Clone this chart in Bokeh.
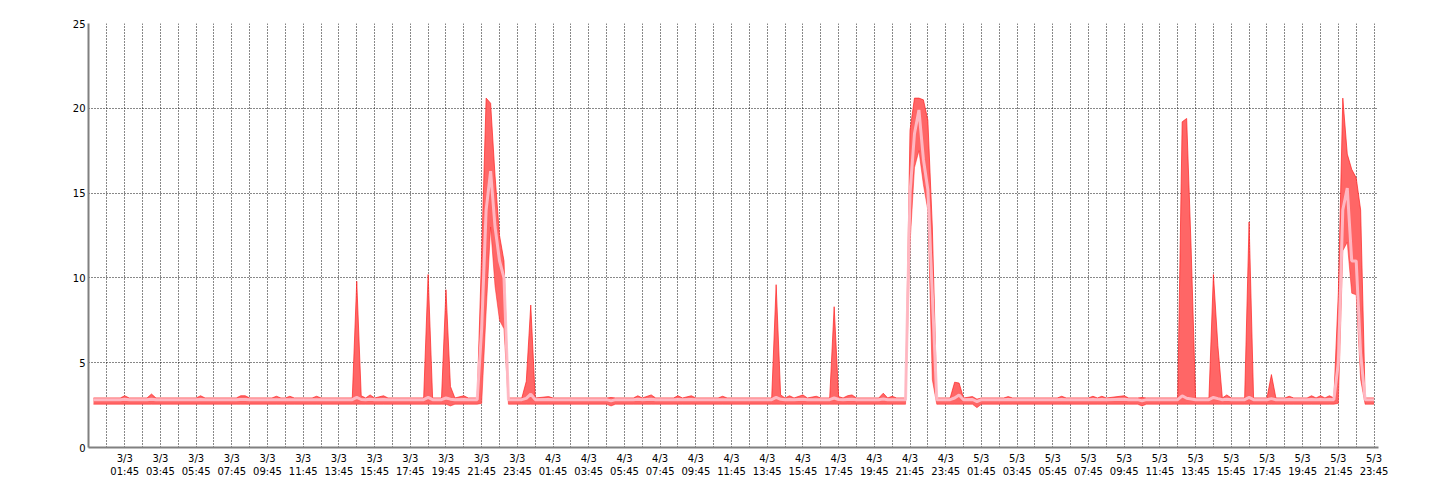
from bokeh.plotting import figure
from bokeh.models import Range1d, FixedTicker, Grid, ColumnDataSource
from bokeh.embed import file_html
from bokeh.resources import INLINE

# hours since 3/3 00:00
t_hours = [
    0.0, 1.5, 1.75, 2.0, 3.0, 3.25, 3.5, 5.75, 6.0, 6.25, 8.0, 8.25, 8.5, 8.75,
    10.0, 10.25, 10.5, 10.75, 11.0, 11.25, 12.25, 12.5, 12.75, 14.5, 14.75, 15.0,
    15.25, 15.5, 15.75, 16.25, 16.5, 18.5, 18.75, 19.0, 19.5, 19.75, 20.0, 20.25,
    20.75, 21.0, 21.5, 21.75, 22.0, 22.25, 22.5, 22.75, 23.0, 23.25,
    24.0, 24.25, 24.5, 24.75, 25.5, 25.75, 28.75, 29.0, 29.25, 30.25, 30.5, 30.75,
    31.25, 31.5, 32.5, 32.75, 33.0, 33.5, 33.75, 35.0, 35.25, 35.5, 38.0, 38.25,
    38.5, 38.75, 39.0, 39.25, 39.75, 40.0, 40.5, 40.75, 41.25, 41.5, 41.75, 42.0,
    42.25, 42.5, 42.75, 44.0, 44.25, 44.5, 44.75, 45.0, 45.5, 45.75, 46.0, 46.25,
    46.5, 46.75, 47.0, 47.25,
    48.0, 48.25, 48.5, 48.75, 49.25, 49.5, 49.75, 51.0, 51.25, 51.5, 54.0, 54.25,
    54.5, 55.75, 56.0, 56.25, 56.5, 56.75, 57.75, 58.0, 58.5, 58.75, 59.0, 60.75,
    61.0, 61.25, 61.5, 61.75, 62.5, 62.75, 63.0, 63.25, 63.5, 63.75, 64.5, 64.75,
    65.0, 65.75, 66.0, 66.25, 66.75, 67.0, 67.25, 68.0, 68.25, 68.5, 68.75, 69.0,
    69.25, 69.5, 69.75, 70.0, 70.25, 70.5, 70.75, 71.0, 71.25, 71.75,
]

max_vals = [
    2.92, 2.92, 3.05, 2.92, 2.92, 3.15, 2.92, 2.92, 3.05, 2.92, 2.92, 3.05, 3.05, 2.92,
    2.92, 3.02, 2.92, 2.92, 3.02, 2.92, 2.92, 3.02, 2.92, 2.92, 9.8, 3.05,
    2.92, 3.1, 2.92, 3.05, 2.92, 2.92, 10.2, 2.92, 2.92, 9.3, 3.6, 2.92,
    3.05, 2.92, 2.92, 11.5, 20.6, 20.3, 16.0, 12.5, 11.0, 2.92,
    2.92, 3.9, 8.4, 2.92, 3.0, 2.92, 2.92, 2.95, 2.92, 2.92, 3.05, 2.92,
    3.1, 2.92, 2.92, 3.05, 2.92, 3.05, 2.92, 2.92, 3.02, 2.92, 2.92, 9.6,
    3.1, 2.92, 3.05, 2.92, 3.1, 2.92, 3.02, 2.92, 2.92, 8.3, 3.0, 2.92,
    3.05, 3.1, 2.92, 2.92, 3.2, 2.92, 3.02, 2.92, 2.92, 18.7, 20.6, 20.6,
    20.5, 19.3, 13.0, 2.92,
    2.92, 3.85, 3.8, 2.92, 3.0, 2.85, 2.92, 2.92, 3.0, 2.92, 2.92, 3.02,
    2.92, 2.92, 3.02, 2.92, 3.02, 2.92, 3.05, 2.92, 2.92, 2.95, 2.92, 2.92,
    19.2, 19.4, 11.8, 2.92, 2.92, 10.2, 6.0, 2.92, 3.1, 2.92, 2.92, 13.3,
    2.92, 2.92, 4.3, 2.92, 2.92, 3.02, 2.92, 2.92, 3.05, 2.92, 3.05, 2.92,
    3.05, 2.92, 9.1, 20.6, 17.3, 16.4, 15.9, 14.0, 2.92, 2.92,
]

avg_vals = [
    2.82, 2.82, 2.84, 2.82, 2.82, 2.85, 2.82, 2.82, 2.83, 2.82, 2.82, 2.83, 2.83, 2.82,
    2.82, 2.82, 2.82, 2.82, 2.82, 2.82, 2.82, 2.82, 2.82, 2.82, 2.95, 2.83,
    2.82, 2.84, 2.82, 2.83, 2.82, 2.82, 2.95, 2.82, 2.82, 2.92, 2.85, 2.82,
    2.83, 2.82, 2.82, 7.0, 14.0, 16.3, 13.0, 11.0, 10.0, 2.82,
    2.82, 2.9, 3.15, 2.82, 2.83, 2.82, 2.82, 2.75, 2.82, 2.82, 2.84, 2.82,
    2.84, 2.82, 2.82, 2.83, 2.82, 2.83, 2.82, 2.82, 2.82, 2.82, 2.82, 2.95,
    2.84, 2.82, 2.83, 2.82, 2.84, 2.82, 2.82, 2.82, 2.82, 2.92, 2.83, 2.82,
    2.83, 2.84, 2.82, 2.82, 2.86, 2.82, 2.82, 2.82, 2.82, 15.0, 18.5, 19.9,
    17.0, 15.2, 9.0, 2.82,
    2.82, 2.92, 3.1, 2.82, 2.83, 2.7, 2.82, 2.82, 2.83, 2.82, 2.82, 2.83,
    2.82, 2.82, 2.83, 2.82, 2.83, 2.82, 2.84, 2.82, 2.82, 2.75, 2.82, 2.82,
    3.05, 2.9, 2.86, 2.82, 2.82, 2.95, 2.88, 2.82, 2.84, 2.82, 2.82, 2.95,
    2.82, 2.82, 2.88, 2.82, 2.82, 2.83, 2.82, 2.82, 2.83, 2.82, 2.83, 2.82,
    2.83, 2.82, 5.0, 14.0, 15.3, 11.0, 11.0, 5.5, 2.82, 2.82,
]

min_vals = [
    2.55, 2.55, 2.55, 2.55, 2.55, 2.55, 2.55, 2.55, 2.55, 2.55, 2.55, 2.55, 2.55, 2.55,
    2.55, 2.55, 2.55, 2.55, 2.55, 2.55, 2.55, 2.55, 2.55, 2.55, 2.55, 2.55,
    2.55, 2.55, 2.55, 2.55, 2.55, 2.55, 2.55, 2.55, 2.55, 2.55, 2.45, 2.55,
    2.55, 2.55, 2.55, 2.6, 8.0, 13.0, 9.5, 7.5, 7.0, 2.55,
    2.55, 2.55, 2.55, 2.55, 2.55, 2.55, 2.55, 2.45, 2.55, 2.55, 2.55, 2.55,
    2.55, 2.55, 2.55, 2.55, 2.55, 2.55, 2.55, 2.55, 2.55, 2.55, 2.55, 2.55,
    2.55, 2.55, 2.55, 2.55, 2.55, 2.55, 2.55, 2.55, 2.55, 2.55, 2.55, 2.55,
    2.55, 2.55, 2.55, 2.55, 2.55, 2.55, 2.55, 2.55, 2.55, 12.0, 16.5, 17.5,
    15.5, 14.0, 4.0, 2.55,
    2.55, 2.55, 2.55, 2.55, 2.55, 2.35, 2.55, 2.55, 2.55, 2.55, 2.55, 2.55,
    2.55, 2.55, 2.55, 2.55, 2.55, 2.55, 2.55, 2.55, 2.55, 2.45, 2.55, 2.55,
    2.55, 2.55, 2.55, 2.55, 2.55, 2.55, 2.55, 2.55, 2.55, 2.55, 2.55, 2.55,
    2.55, 2.55, 2.55, 2.55, 2.55, 2.55, 2.55, 2.55, 2.55, 2.55, 2.55, 2.55,
    2.55, 2.55, 2.6, 11.6, 12.1, 9.1, 9.0, 4.0, 2.55, 2.55,
]

tick_labels = [
    "3/3\n01:45", "3/3\n03:45", "3/3\n05:45", "3/3\n07:45", "3/3\n09:45", "3/3\n11:45",
    "3/3\n13:45", "3/3\n15:45", "3/3\n17:45", "3/3\n19:45", "3/3\n21:45", "3/3\n23:45",
    "4/3\n01:45", "4/3\n03:45", "4/3\n05:45", "4/3\n07:45", "4/3\n09:45", "4/3\n11:45",
    "4/3\n13:45", "4/3\n15:45", "4/3\n17:45", "4/3\n19:45", "4/3\n21:45", "4/3\n23:45",
    "5/3\n01:45", "5/3\n03:45", "5/3\n05:45", "5/3\n07:45", "5/3\n09:45", "5/3\n11:45",
    "5/3\n13:45", "5/3\n15:45", "5/3\n17:45", "5/3\n19:45", "5/3\n21:45", "5/3\n23:45",
]
y_ticks = [0, 5, 10, 15, 20, 25]


def label_to_hours(lbl):
    d, tm = lbl.split("\n")
    day = int(d.split("/")[0]) - 3
    hh, mm = tm.split(":")
    return 24 * day + int(hh) + int(mm) / 60.0


tick_pos = [label_to_hours(l) for l in tick_labels]

src = ColumnDataSource(dict(t=t_hours, mx=max_vals, av=avg_vals, mn=min_vals))

p = figure(width=1432, height=492, output_backend="svg", toolbar_location=None,
           x_range=Range1d(-0.28, 72.0), y_range=Range1d(0, 25),
           min_border_left=88, min_border_right=54, min_border_top=23,
           min_border_bottom=45)
p.outline_line_color = None
p.background_fill_color = "white"
p.border_fill_color = "white"

# grids
p.xgrid.visible = False
p.ygrid.ticker = FixedTicker(ticks=y_ticks)
p.ygrid.grid_line_color = "#111111"
p.ygrid.grid_line_dash = "1 2"
p.ygrid.grid_line_width = 1
vgrid = Grid(dimension=0, ticker=FixedTicker(ticks=[0.75 + k for k in range(72)]),
             grid_line_color="#111111", grid_line_dash="1 2", grid_line_width=1)
p.add_layout(vgrid)

# data
p.varea(x="t", y1="mn", y2="mx", source=src, fill_color="#FF6666")
p.line(x="t", y="mx", source=src, line_color="#FF2222", line_width=1, line_alpha=0.7)
p.line(x="t", y="mn", source=src, line_color="#FF2222", line_width=1, line_alpha=0.5)
p.line(x="t", y="av", source=src, line_color="#FFBCC6", line_width=3, line_alpha=0.95)

# axes
xa = p.xaxis[0]
xa.ticker = FixedTicker(ticks=tick_pos)
xa.major_label_overrides = {pos: lbl for pos, lbl in zip(tick_pos, tick_labels)}
ya = p.yaxis[0]
ya.ticker = FixedTicker(ticks=y_ticks)
for ax in (xa, ya):
    ax.axis_line_color = "#808080"
    ax.axis_line_width = 2
    ax.major_tick_out = 0
    ax.major_tick_in = 0
    ax.minor_tick_out = 0
    ax.minor_tick_in = 0
    ax.major_label_text_font = "DejaVu Sans"
    ax.major_label_text_font_size = "10px"
    ax.major_label_text_color = "#000000"
xa.major_label_standoff = 5
ya.major_label_standoff = 3

open("out.html", "w").write(file_html(p, INLINE))
